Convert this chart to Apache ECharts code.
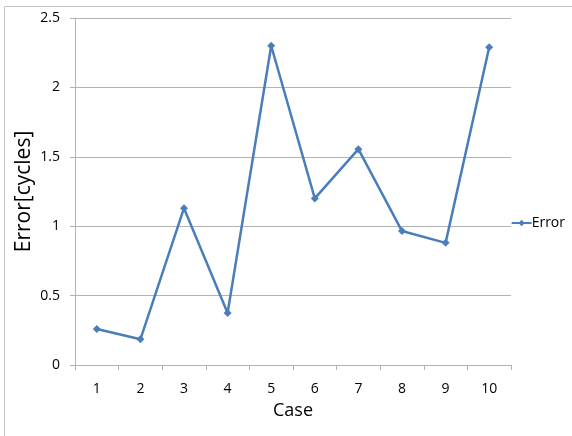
<!DOCTYPE html>
<html>
<head>
<meta charset="utf-8">
<script src="https://cdn.jsdelivr.net/npm/echarts@6/dist/echarts.min.js"></script>
<style>
  html, body { margin: 0; padding: 0; background: #fff; }
  #chart { width: 572px; height: 436px; }
</style>
</head>
<body>
<div id="chart"></div>
<script>
// Error per test case
const cases = ['1', '2', '3', '4', '5', '6', '7', '8', '9', '10'];
const errorValues = [0.26, 0.185, 1.13, 0.375, 2.3, 1.2, 1.555, 0.965, 0.88, 2.29];

const font = '"Open Sans", "Noto Sans", sans-serif';
const chart = echarts.init(document.getElementById('chart'));

chart.setOption({
  animation: false,
  backgroundColor: '#fff',
  graphic: [{
    type: 'rect',
    shape: { x: 4.5, y: 6.5, width: 700, height: 600 },
    style: { fill: 'none', stroke: '#c4c4c4', lineWidth: 1 },
    silent: true
  }],
  grid: { left: 75, right: 61, top: 18, bottom: 71, containLabel: false },
  legend: {
    data: [{ name: 'Error' }],
    right: 2,
    top: 211,
    orient: 'vertical',
    itemWidth: 20,
    itemHeight: 8,
    itemGap: 2,
    textStyle: { fontFamily: font, fontSize: 14, color: '#000', padding: [0, 0, 0, -5] }
  },
  xAxis: {
    type: 'category',
    data: cases,
    boundaryGap: true,
    name: 'Case',
    nameLocation: 'middle',
    nameGap: 37,
    nameMoveOverlap: false,
    nameTextStyle: { fontFamily: font, fontSize: 18, color: '#000' },
    axisLine: { lineStyle: { color: '#b3b3b3', width: 1 } },
    axisTick: { show: true, length: 5, alignWithLabel: false, lineStyle: { color: '#b3b3b3' } },
    axisLabel: { fontFamily: font, fontSize: 14, color: '#000', margin: 17 },
    splitLine: { show: false }
  },
  yAxis: {
    type: 'value',
    min: 0,
    max: 2.5,
    interval: 0.5,
    name: 'Error[cycles]',
    nameLocation: 'middle',
    nameGap: 40,
    nameMoveOverlap: false,
    nameTextStyle: { fontFamily: font, fontSize: 21, color: '#000' },
    axisLine: { show: true, lineStyle: { color: '#b3b3b3', width: 1 } },
    axisTick: { show: true, length: 5, lineStyle: { color: '#b3b3b3' } },
    axisLabel: { fontFamily: font, fontSize: 14, color: '#000', margin: 15 },
    splitLine: { show: true, lineStyle: { color: '#b3b3b3', width: 1 } }
  },
  series: [{
    name: 'Error',
    type: 'line',
    data: errorValues,
    symbol: 'diamond',
    symbolSize: 8,
    lineStyle: { color: '#4a7ebb', width: 2.5 },
    itemStyle: { color: '#4a7ebb' }
  }]
});
</script>
</body>
</html>
